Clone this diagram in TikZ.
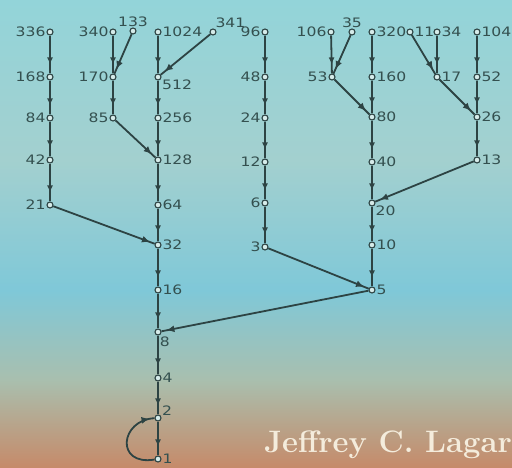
\documentclass[tikz,border=0pt]{standalone}
\usepackage{fontspec}
\usepackage{tikz}
\usetikzlibrary{arrows.meta, decorations.markings}

\newfontfamily\numfont[FakeStretch=1.2]{DejaVu Sans}

\definecolor{ink}{HTML}{2D4343}
\definecolor{numcol}{HTML}{34504F}
\definecolor{dotfill}{HTML}{D6ECEA}
\definecolor{cream}{HTML}{F4ECDC}
\definecolor{bgA}{HTML}{93D4D9}
\definecolor{bgB}{HTML}{A3D0CF}
\definecolor{bgC}{HTML}{7FC8D8}
\definecolor{bgD}{HTML}{A9BFAE}
\definecolor{bgE}{HTML}{C68A69}

\begin{document}
\begin{tikzpicture}[x=1pt, y=-1pt,
    dot/.style={circle, draw=ink, line width=1.1pt, fill=dotfill, inner sep=0pt, minimum size=6pt},
    num/.style={font=\numfont\fontsize{13}{14}\selectfont, text=numcol, inner sep=0.8pt},
    drop/.style={draw=ink, line width=1.8pt, postaction={decorate},
        decoration={markings, mark=at position -9pt with {\arrow{Latex[length=7pt,width=6pt]}}}},
    hop/.style={draw=ink, line width=1.8pt, postaction={decorate},
        decoration={markings, mark=at position -5pt with {\arrow{Latex[length=8pt,width=7pt]}}}}]

    \useasboundingbox (0,0) rectangle (512,468);

    % Background
    \shade[top color=bgA, bottom color=bgB] (0,0) rectangle (512,161);
    \shade[top color=bgB, bottom color=bgC] (0,160) rectangle (512,291);
    \shade[top color=bgC, bottom color=bgD] (0,290) rectangle (512,381);
    \shade[top color=bgD, bottom color=bgE] (0,380) rectangle (512,468);

    % Numbers of the tree
    \foreach \n/\x/\y/\p in {336/50/32/left, 168/50/77/left, 84/50/118/left, 42/50/160/left, 21/50/205/left,
        340/113/32/left, 133/133/31/above, 170/113/77/left, 85/113/118/left,
        1024/158/32/right, 341/213/32/65, 512/158/77/-25, 256/158/118/right, 128/158/160/right,
        64/158/205/right, 32/158/245/right, 16/158/290/right, 8/158/332/-75, 4/158/378/right,
        2/158/418/25, 1/158/459/right,
        96/265/32/left, 48/265/77/left, 24/265/118/left, 12/265/162/left, 6/265/203/left, 3/265/247/left,
        106/331/32/left, 35/352/32/above, 53/332/77/left,
        320/372/32/right, 160/372/77/right, 80/372/117/right, 40/372/162/right,
        20/372/203/-40, 10/372/245/right, 5/372/290/right,
        11/410/32/right, 34/437/32/right, 17/437/77/right,
        104/477/32/right, 52/477/77/right, 26/477/117/right, 13/477/160/right}
        \node[dot, label={[num]\p:\n}] (n\n) at (\x,\y) {};

    % Halving steps
    \foreach \a/\b in {336/168, 168/84, 84/42, 42/21, 340/170, 170/85,
        1024/512, 512/256, 256/128, 128/64, 64/32, 32/16, 16/8, 8/4, 4/2, 2/1,
        96/48, 48/24, 24/12, 12/6, 6/3, 106/53,
        320/160, 160/80, 80/40, 40/20, 20/10, 10/5, 34/17, 104/52, 52/26, 26/13}
        \draw[drop] (n\a) -- (n\b);

    % Odd steps
    \foreach \a/\b in {133/170, 341/512, 85/128, 21/32, 35/53, 53/80, 11/17, 17/26, 13/20, 3/5, 5/8}
        \draw[hop] (n\a) -- (n\b);
    \draw[hop] (n1) .. controls (115,466) and (120,420) .. (n2);

    % Author
    \node[anchor=base west, inner sep=0pt, font=\fontsize{31}{33}\selectfont\bfseries, text=cream]
        (author) at (264,452) {Jeffrey C. Lagar};
\end{tikzpicture}
\end{document}
